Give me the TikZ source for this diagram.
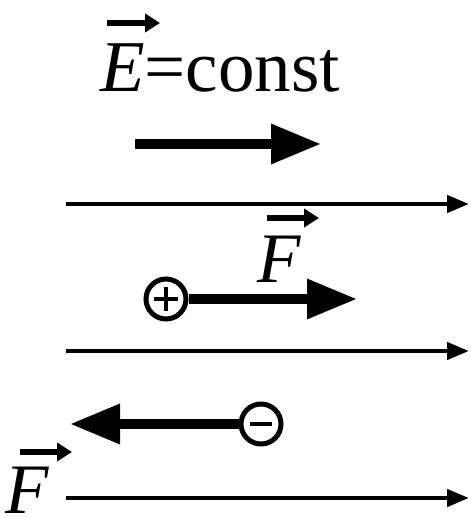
\documentclass[tikz,border=0pt]{standalone}
\usepackage{fontspec}
\setmainfont{Liberation Serif}
\usetikzlibrary{arrows.meta}
\begin{document}
\begin{tikzpicture}[x=1pt,y=-1pt,
  fieldline/.style={line width=4.5pt,-{Triangle[length=22pt,width=17pt]}},
  bigarrow/.style={line width=9.5pt,-{Triangle[length=50pt,width=38pt]}},
  vecarrow/.style={line width=6pt,-{Triangle[length=15pt,width=18pt]}},
  charge/.style={circle,draw,line width=5pt,minimum size=40pt,inner sep=0pt},
  lbl/.style={inner sep=0pt,font=\fontsize{71}{71}\selectfont}]
\useasboundingbox (0,0) rectangle (470,518);
% title
\node[lbl,anchor=base west,font=\fontsize{73}{73}\selectfont] (title) at (100,92) {\textit{E}=const};
\coordinate (ea1) at (107,23);
\coordinate (ea2) at (160,23);
\draw[vecarrow] (ea1) -- (ea2);
% E arrow
\coordinate (e1) at (135,144);
\coordinate (e2) at (321,144);
\draw[bigarrow] (e1) -- (e2);
% field lines
\coordinate (l1a) at (66,204);
\coordinate (l1b) at (469,204);
\coordinate (l2a) at (66,351);
\coordinate (l2b) at (469,351);
\coordinate (l3a) at (66,498);
\coordinate (l3b) at (469,498);
\draw[fieldline] (l1a) -- (l1b);
\draw[fieldline] (l2a) -- (l2b);
\draw[fieldline] (l3a) -- (l3b);
% positive charge
\node[charge] (pc) at (166,299) {};
\draw[line width=3.5pt] (pc.center) ++(-12,0) -- ++(24,0);
\draw[line width=3.5pt] (pc.center) ++(0,-12) -- ++(0,24);
\coordinate (pf) at (357,299);
\draw[bigarrow] (pc.east) -- (pf);
\node[lbl,anchor=base west] (F1) at (257,282) {\textit{F}};
\coordinate (fa1) at (267,218);
\coordinate (fa2) at (319,218);
\draw[vecarrow] (fa1) -- (fa2);
% negative charge
\node[charge] (nc) at (261,424) {};
\draw[line width=4.5pt] (nc.center) ++(-11,0) -- ++(22,0);
\coordinate (nf) at (70,424);
\draw[bigarrow] (nc.west) -- (nf);
\node[lbl,anchor=base west] (F2) at (5,513) {\textit{F}};
\coordinate (fb1) at (20,452);
\coordinate (fb2) at (72,452);
\draw[vecarrow] (fb1) -- (fb2);
\end{tikzpicture}
\end{document}
